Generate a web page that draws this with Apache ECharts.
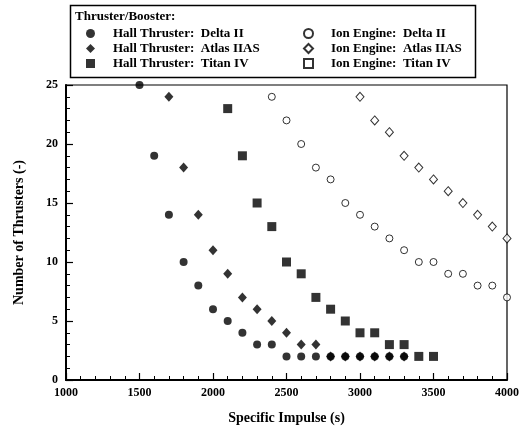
<!DOCTYPE html>
<html><head><meta charset="utf-8">
<script src="https://cdn.jsdelivr.net/npm/echarts@6/dist/echarts.min.js"></script>
<style>html,body{margin:0;padding:0;background:#fff}#c{width:522px;height:432px}</style>
</head><body><div id="c"></div>
<script>
const hallDeltaX = [1500,1600,1700,1800,1900,2000,2100,2200,2300,2400,2500,2600,2700,2800,2900,3000,3100,3200,3300];
const hallDeltaY = [25,19,14,10,8,6,5,4,3,3,2,2,2,2,2,2,2,2,2];
const hallAtlasX = [1700,1800,1900,2000,2100,2200,2300,2400,2500,2600,2700,2800,2900,3000,3100,3200,3300];
const hallAtlasY = [24,18,14,11,9,7,6,5,4,3,3,2,2,2,2,2,2];
const hallTitanX = [2100,2200,2300,2400,2500,2600,2700,2800,2900,3000,3100,3200,3300,3400,3500];
const hallTitanY = [23,19,15,13,10,9,7,6,5,4,4,3,3,2,2];
const ionDeltaX = [2400,2500,2600,2700,2800,2900,3000,3100,3200,3300,3400,3500,3600,3700,3800,3900,4000];
const ionDeltaY = [24,22,20,18,17,15,14,13,12,11,10,10,9,9,8,8,7];
const ionAtlasX = [3000,3100,3200,3300,3400,3500,3600,3700,3800,3900,4000];
const ionAtlasY = [24,22,21,19,18,17,16,15,14,13,12];
const ionTitanX = [];
const ionTitanY = [];
const names = ['Hall Thruster:  Delta II','Hall Thruster:  Atlas IIAS','Hall Thruster:  Titan IV',
               'Ion Engine:  Delta II','Ion Engine:  Atlas IIAS','Ion Engine:  Titan IV'];
const xTicks = [1000,1500,2000,2500,3000,3500,4000];
const yTicks = [0,5,10,15,20,25];

const F = '"Liberation Serif","Times New Roman",serif';
const zip = (xs, ys) => xs.map((x, i) => [x, ys[i]]);
const filled = {color:'#000'};
const open = {color:'#fff', borderColor:'#000', borderWidth:1};

const chart = echarts.init(document.getElementById('c'));
const legendBase = {orient:'vertical', itemGap:2, itemWidth:9, itemHeight:9, padding:0,
  textStyle:{fontFamily:F, fontWeight:'bold', fontSize:13, color:'#000', padding:[0,0,0,13]}, selectedMode:false};
const minorAxis = (min, max, step, pos) => ({type:'value', min, max, interval:step, position:pos,
  axisLine:{show:false}, axisLabel:{show:false}, splitLine:{show:false},
  axisTick:{show:true, inside:true, length:4, lineStyle:{color:'#000', width:1}}});
chart.setOption({
  animation:false,
  grid:{left:66, right:13, top:85, bottom:52, show:true, borderColor:'#000', borderWidth:1.2},
  graphic:[
    {type:'rect', shape:{x:70.5, y:5.5, width:405, height:72}, style:{fill:'#fff', stroke:'#000', lineWidth:1.5}, z:-1},
    {type:'text', left:75, top:10, style:{text:'Thruster/Booster:', font:'bold 13px '+F, fill:'#000'}}
  ],
  legend:[
    Object.assign({}, legendBase, {left:86, top:27, data:names.slice(0,3)}),
    Object.assign({}, legendBase, {left:303, top:27, data:names.slice(3)})
  ],
  xAxis:[{type:'value', min:1000, max:4000, interval:500,
    axisLine:{lineStyle:{color:'#000', width:2}},
    axisTick:{show:true, inside:true, length:7, lineStyle:{color:'#000', width:1.2}},
    splitLine:{show:false},
    axisLabel:{fontFamily:F, fontWeight:'bold', fontSize:12, color:'#000', margin:7,
      formatter:v => xTicks.includes(v) ? String(v) : ''},
    name:'Specific Impulse (s)', nameLocation:'middle', nameGap:31,
    nameTextStyle:{fontFamily:F, fontWeight:'bold', fontSize:14, color:'#000'}},
    minorAxis(1000, 4000, 100, 'bottom')],
  yAxis:[{type:'value', min:0, max:25, interval:5,
    axisLine:{show:true, lineStyle:{color:'#000', width:2}},
    axisTick:{show:true, inside:true, length:7, lineStyle:{color:'#000', width:1.2}},
    splitLine:{show:false},
    axisLabel:{fontFamily:F, fontWeight:'bold', fontSize:12, color:'#000', margin:8,
      formatter:v => yTicks.includes(v) ? String(v) : ''},
    name:'Number of Thrusters (-)', nameLocation:'middle', nameGap:40,
    nameTextStyle:{fontFamily:F, fontWeight:'bold', fontSize:14, color:'#000'}},
    minorAxis(0, 25, 1, 'left')],
  series:[
    {name:names[0], type:'scatter', symbol:'circle', symbolSize:8, itemStyle:filled, data:zip(hallDeltaX, hallDeltaY)},
    {name:names[1], type:'scatter', symbol:'diamond', symbolSize:[9,10], itemStyle:filled, data:zip(hallAtlasX, hallAtlasY)},
    {name:names[2], type:'scatter', symbol:'rect', symbolSize:9, itemStyle:filled, data:zip(hallTitanX, hallTitanY)},
    {name:names[3], type:'scatter', symbol:'circle', symbolSize:7, itemStyle:open, data:zip(ionDeltaX, ionDeltaY)},
    {name:names[4], type:'scatter', symbol:'diamond', symbolSize:[8,9], itemStyle:open, data:zip(ionAtlasX, ionAtlasY)},
    {name:names[5], type:'scatter', symbol:'rect', symbolSize:7, itemStyle:open, data:zip(ionTitanX, ionTitanY)}
  ]
});
</script></body></html>
